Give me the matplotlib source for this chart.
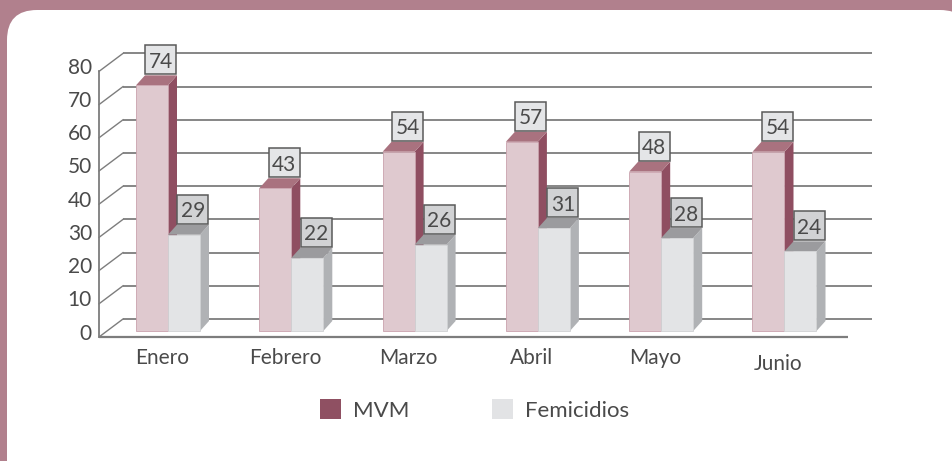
import matplotlib
matplotlib.use("Agg")
import matplotlib.pyplot as plt
from matplotlib.patches import Rectangle, Polygon, FancyBboxPatch, Patch

# ---- data ----
categories = ["Enero", "Febrero", "Marzo", "Abril", "Mayo", "Junio"]
mvm = [74, 43, 54, 57, 48, 54]
femicidios = [29, 22, 26, 31, 28, 24]
series_names = ["MVM", "Femicidios"]
yticks = [0, 10, 20, 30, 40, 50, 60, 70, 80]

# ---- styles ----
W, H = 953, 461
BG = "#b1808d"
TXT = "#4a4a4a"
GRID = "#7d7d7d"
FONT = "Lato"
plt.rcParams["font.family"] = [FONT, "DejaVu Sans"]

PX_X = 123.3          # px per category unit
PX_Y = 3.32           # px per value unit
def dxu(px): return px / PX_X
def dyu(px): return px / PX_Y

fig = plt.figure(figsize=(W / 100, H / 100), dpi=100, facecolor=BG)
panel = FancyBboxPatch((7, -40), 963, 491, boxstyle="round,pad=0,rounding_size=30",
                       transform=None, facecolor="white", edgecolor="none", zorder=-10)
fig.patches.append(panel)

ax = fig.add_axes([0, 0, 1, 1])
ax.set_zorder(5)
ax.set_axis_off()
ax.patch.set_alpha(0)
ax.set_xlim(-168 / PX_X, (W - 168) / PX_X)
ax.set_ylim(-(H - 337) / PX_Y, 337 / PX_Y)

x_left = dxu(99 - 168)
x_right = dxu(848 - 168)
wall_dx = dxu(24)
wall_dy = dyu(18)

for v in yticks:
    ax.plot([x_left + wall_dx, x_right + wall_dx], [v + wall_dy, v + wall_dy],
            color=GRID, lw=1.3, zorder=1, solid_capstyle="butt")
    ax.plot([x_left, x_left + wall_dx], [v, v + wall_dy], color=GRID, lw=1.0, zorder=1)
    ax.text(x_left - dxu(7), v + dyu(3.5), str(v), ha="right", va="center",
            fontsize=15, color=TXT)
ax.plot([x_left, x_left], [0, yticks[-1]], color=GRID, lw=1.3, zorder=1)
ax.plot([x_left, x_right], [0, 0], color=GRID, lw=1.6, zorder=1, solid_capstyle="butt")

bw = dxu(32)
bdx = dxu(9)
bdy = dyu(10)
base = dyu(6)
box_w = dxu(31)
box_h = dyu(29)
styles = [
    dict(front="#dfc9cf", side="#8f4e61", top="#a9727f", edge="#c9a2ad", box="#e4e5e7"),
    dict(front="#e3e4e6", side="#b0b2b5", top="#9b9b9e", edge="#d0d1d3", box="#d1d2d4"),
]
for s, vals in enumerate([mvm, femicidios]):
    st = styles[s]
    for i, v in enumerate(vals):
        x0 = i - bw + s * bw
        top = base + v
        ax.add_patch(Polygon([(x0 + bw, base), (x0 + bw + bdx, base + bdy),
                              (x0 + bw + bdx, top + bdy), (x0 + bw, top)],
                             closed=True, facecolor=st["side"], edgecolor="none", zorder=3 + s))
        ax.add_patch(Polygon([(x0, top), (x0 + bw, top), (x0 + bw + bdx, top + bdy),
                              (x0 + bdx, top + bdy)],
                             closed=True, facecolor=st["top"], edgecolor="none", zorder=3 + s))
        ax.add_patch(Rectangle((x0, base), bw, v, facecolor=st["front"],
                               edgecolor=st["edge"], lw=0.6, zorder=3 + s))
        cx = x0 + bw / 2 + bdx
        by = top + bdy + dyu(1)
        ax.add_patch(Rectangle((cx - box_w / 2, by), box_w, box_h, facecolor=st["box"],
                               edgecolor="#5a5a5a", lw=1.1, zorder=6 + s))
        ax.text(cx, by + box_h / 2, str(v), ha="center", va="center_baseline",
                fontsize=15, color=TXT, zorder=7 + s)

label_shift = {"Junio": 6}
for i, c in enumerate(categories):
    ax.text(i - dxu(6), -dyu(21 + label_shift.get(c, 0)), c, ha="center", va="center",
            fontsize=15, color=TXT)

handles = [Patch(facecolor="#8f5062", edgecolor="none"),
           Patch(facecolor="#e2e3e5", edgecolor="none")]
fig.legend(handles, series_names, loc="center left",
           bbox_to_anchor=(320 / W, 1 - 410 / H), ncol=2, frameon=False,
           fontsize=16, labelcolor=TXT, handlelength=0.95, handleheight=0.95,
           handletextpad=0.55, columnspacing=3.7, borderpad=0, borderaxespad=0)

fig.savefig("out.png", dpi=100, facecolor=BG)
